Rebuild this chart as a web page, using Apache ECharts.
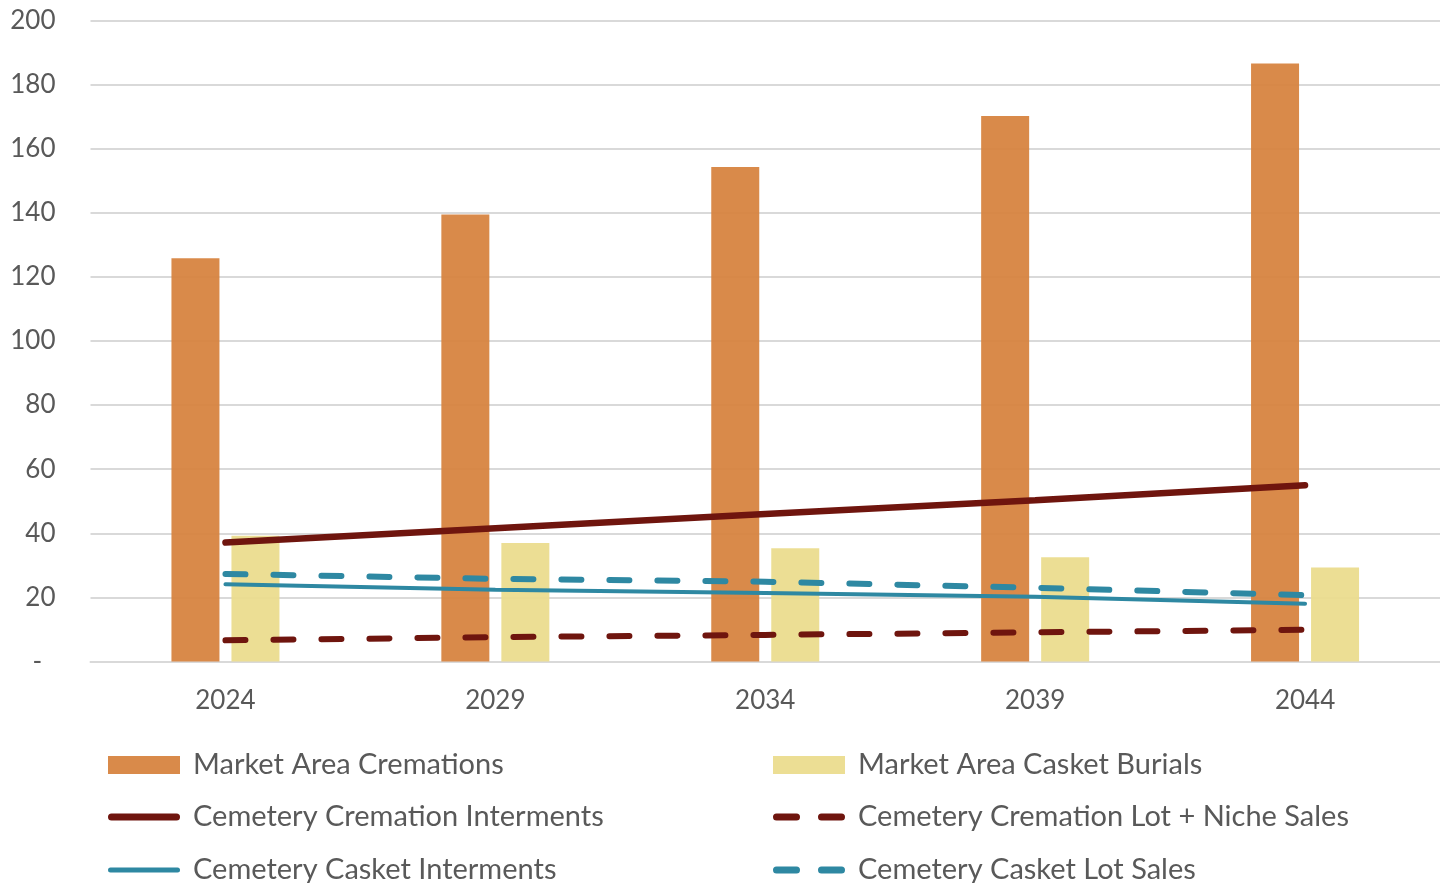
<!DOCTYPE html>
<html>
<head>
<meta charset="utf-8">
<script src="https://cdn.jsdelivr.net/npm/echarts@6/dist/echarts.min.js"></script>
<style>
  html, body { margin: 0; padding: 0; background: #fff; }
  #chart { width: 1440px; height: 883px; }
</style>
</head>
<body>
<div id="chart"></div>
<script>
const years = ['2024', '2029', '2034', '2039', '2044'];
const marketCremations = [125.8, 139.5, 154.3, 170.2, 186.6];
const marketCasketBurials = [39.2, 37.0, 35.3, 32.5, 29.3];
const cemeteryCremationInterments = [37.1, 41.6, 46.0, 50.3, 55.0];
const cemeteryCremationLotNiche = [6.6, 7.6, 8.3, 9.1, 9.9];
const cemeteryCasketInterments = [24.1, 22.4, 21.4, 20.2, 18.0];
const cemeteryCasketLotSales = [27.3, 25.8, 24.9, 23.0, 20.7];

const FONT = 'Lato';
const RED = '#6F150E';
const TEAL = '#2E88A2';

// legend icons drawn as paths so the line keys look like the reference
const ICON_SOLID_THICK = 'path://M3.5,0 H68.5 A3.5,3.5 0 0 1 68.5,7 H3.5 A3.5,3.5 0 0 1 3.5,0 Z';
const ICON_SOLID_THIN = 'path://M2.5,0 H69.5 A2.5,2.5 0 0 1 69.5,5 H2.5 A2.5,2.5 0 0 1 2.5,0 Z';
const ICON_DASHED = 'path://M3.5,0 H23.5 A3.5,3.5 0 0 1 23.5,7 H3.5 A3.5,3.5 0 0 1 3.5,0 Z M48.5,0 H68.5 A3.5,3.5 0 0 1 68.5,7 H48.5 A3.5,3.5 0 0 1 48.5,0 Z';

const chart = echarts.init(document.getElementById('chart'));

function legendAt(name, icon, left, top) {
  return {
    left: left,
    top: top,
    padding: 0,
    itemWidth: 72,
    itemHeight: 18,
    icon: icon,
    textStyle: {
      fontFamily: FONT,
      fontSize: 29,
      color: '#595959',
      lineHeight: 30,
      padding: [0, 0, 0, 8]
    },
    data: [name]
  };
}

chart.setOption({
  animation: false,
  grid: { left: 90.5, right: -5, top: 20.5, bottom: 221.5, containLabel: false },
  legend: [
    legendAt('Market Area Cremations', 'rect', 108, 750),
    legendAt('Cemetery Cremation Interments', ICON_SOLID_THICK, 108, 802),
    legendAt('Cemetery Casket Interments', ICON_SOLID_THIN, 108, 855),
    legendAt('Market Area Casket Burials', 'rect', 773, 750),
    legendAt('Cemetery Cremation Lot + Niche Sales', ICON_DASHED, 773, 802),
    legendAt('Cemetery Casket Lot Sales', ICON_DASHED, 773, 855)
  ],
  xAxis: {
    type: 'category',
    data: years,
    axisLine: { lineStyle: { color: '#D9D9D9', width: 2 } },
    axisTick: { show: false },
    axisLabel: { fontFamily: FONT, fontSize: 26, color: '#595959', margin: 26 }
  },
  yAxis: {
    type: 'value',
    min: 0,
    max: 200,
    interval: 20,
    axisLine: { show: false },
    axisTick: { show: false },
    splitLine: { lineStyle: { color: '#D9D9D9', width: 2 } },
    axisLabel: {
      fontFamily: FONT,
      fontSize: 26,
      color: '#595959',
      margin: 35,
      formatter: v => (v === 0 ? '-  ' : String(v))
    }
  },
  series: [
    {
      name: 'Market Area Cremations',
      type: 'bar',
      data: marketCremations,
      barWidth: 48,
      barGap: '25%',
      itemStyle: { color: '#D6813C', opacity: 0.93 }
    },
    {
      name: 'Market Area Casket Burials',
      type: 'bar',
      data: marketCasketBurials,
      barWidth: 48,
      barGap: '25%',
      itemStyle: { color: '#EBDC8C', opacity: 0.93 }
    },
    {
      name: 'Cemetery Cremation Interments',
      type: 'line',
      data: cemeteryCremationInterments,
      symbol: 'none',
      itemStyle: { color: RED, borderWidth: 0 },
      lineStyle: { color: RED, width: 6.5, cap: 'round' }
    },
    {
      name: 'Cemetery Cremation Lot + Niche Sales',
      type: 'line',
      data: cemeteryCremationLotNiche,
      symbol: 'none',
      itemStyle: { color: RED, borderWidth: 0 },
      lineStyle: { color: RED, width: 6, type: [20, 28], cap: 'round' }
    },
    {
      name: 'Cemetery Casket Interments',
      type: 'line',
      data: cemeteryCasketInterments,
      symbol: 'none',
      itemStyle: { color: TEAL, borderWidth: 0 },
      lineStyle: { color: TEAL, width: 4, cap: 'round' }
    },
    {
      name: 'Cemetery Casket Lot Sales',
      type: 'line',
      data: cemeteryCasketLotSales,
      symbol: 'none',
      itemStyle: { color: TEAL, borderWidth: 0 },
      lineStyle: { color: TEAL, width: 6, type: [20, 28], cap: 'round' }
    }
  ]
});
</script>
</body>
</html>
